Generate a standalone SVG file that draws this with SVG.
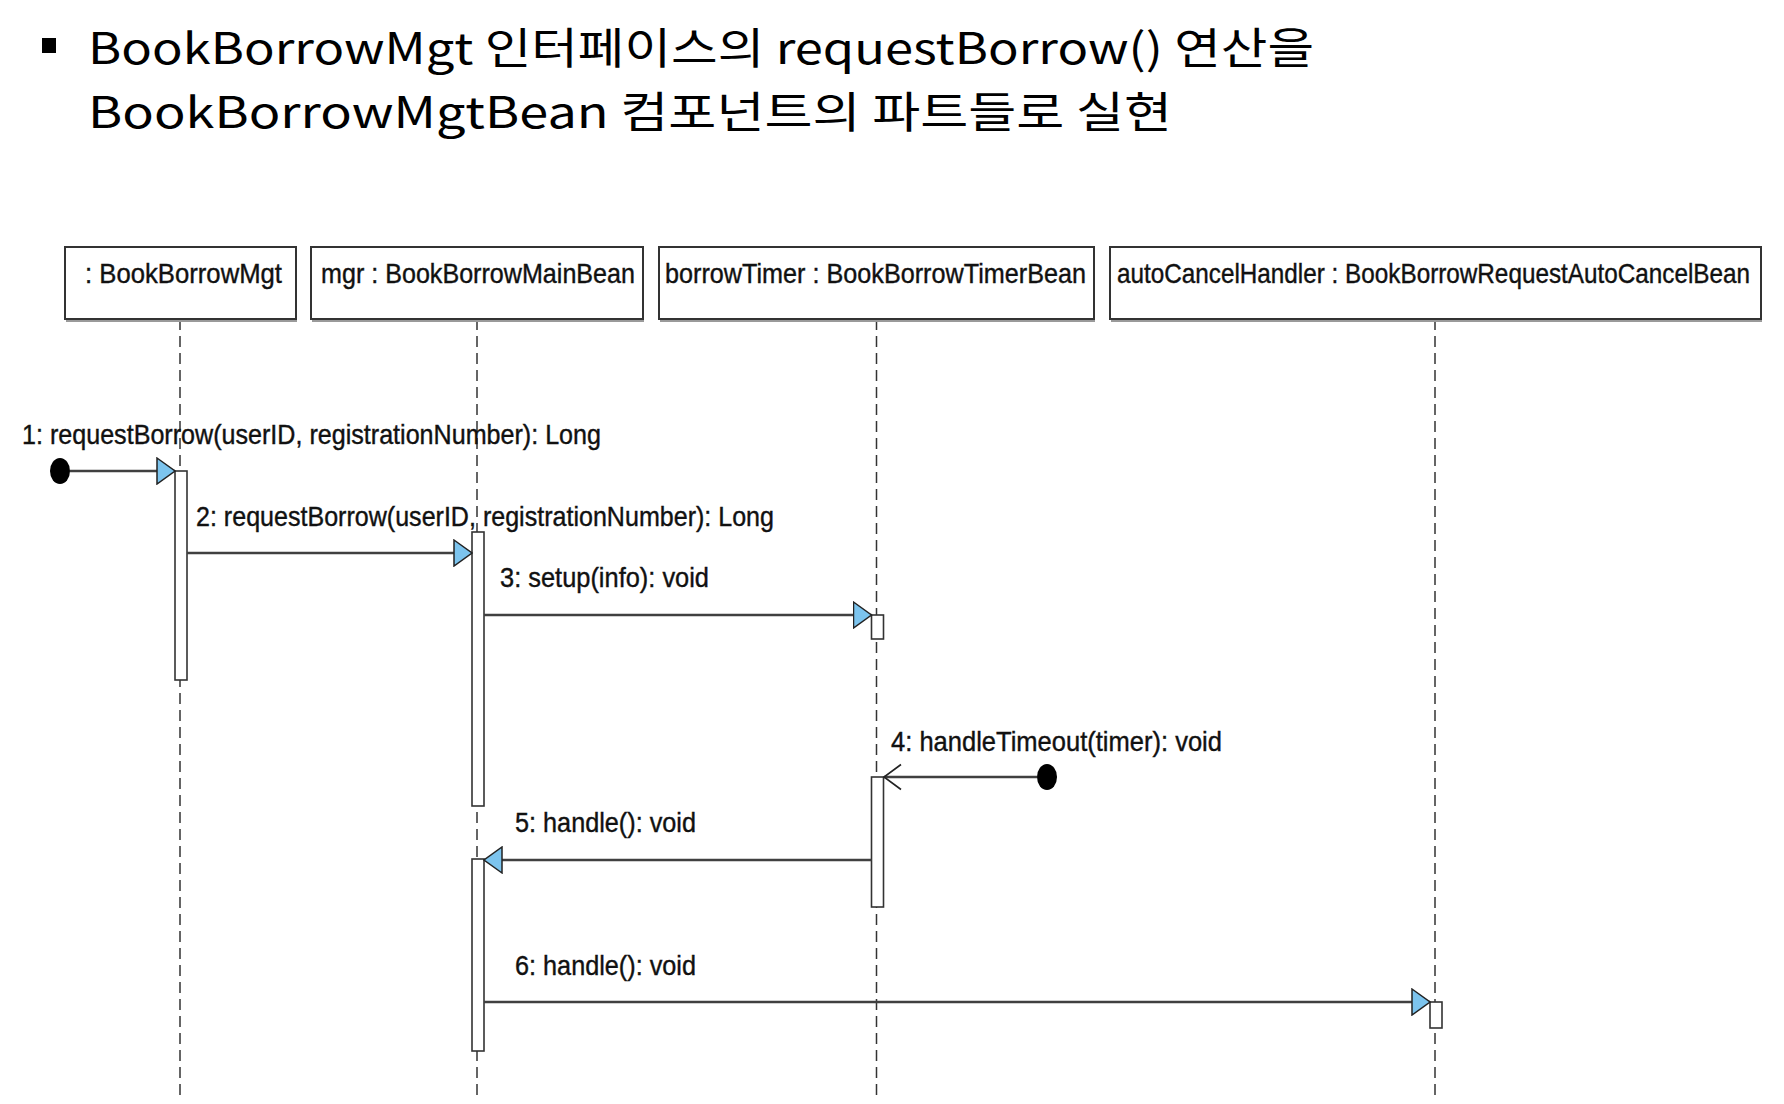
<svg xmlns="http://www.w3.org/2000/svg" width="1784" height="1104" viewBox="0 0 1784 1104">
<defs>
<style>
.title{font-family:"Noto Sans CJK KR","Noto Sans",sans-serif;font-size:43px;fill:#000}
.lbl{font-family:"Liberation Sans","DejaVu Sans",sans-serif;font-size:28px;fill:#111;stroke:#111;stroke-width:0.4}
.box{fill:#fff;stroke:#333;stroke-width:2}
.shadow{fill:none;stroke:#9a9a9a;stroke-width:2}
.life{stroke:#333;stroke-width:1.5;stroke-dasharray:11 6;fill:none}
.bar{fill:#fff;stroke:#333;stroke-width:1.6}
.msg{stroke:#404040;stroke-width:2.5;fill:none}
.dot{fill:#000}
</style>
<marker id="tri" markerUnits="userSpaceOnUse" markerWidth="20" markerHeight="28" viewBox="-1 -1 20 28" refX="18" refY="13" orient="auto">
<path d="M0,0 L18,13 L0,26 Z" fill="#7cc4ee" stroke="#222" stroke-width="1.5"/>
</marker>
<marker id="open" markerUnits="userSpaceOnUse" markerWidth="20" markerHeight="28" viewBox="-1 -1 20 28" refX="17" refY="12.5" orient="auto">
<path d="M0,0 L17,12.5 L0,25" fill="none" stroke="#222" stroke-width="1.6"/>
</marker>
</defs>
<rect width="1784" height="1104" fill="#fff"/>

<g id="title">
<rect x="42" y="38" width="14" height="15" fill="#000"/>
<text class="title" x="88" y="64" textLength="1226" lengthAdjust="spacingAndGlyphs">BookBorrowMgt 인터페이스의 requestBorrow() 연산을</text>
<text class="title" x="88" y="128" textLength="1084" lengthAdjust="spacingAndGlyphs">BookBorrowMgtBean 컴포넌트의 파트들로 실현</text>
</g>

<g id="lifelines">
<line class="life" x1="180" y1="319" x2="180" y2="1095"/>
<line class="life" x1="477" y1="319" x2="477" y2="1095"/>
<line class="life" x1="876.5" y1="319" x2="876.5" y2="1095"/>
<line class="life" x1="1435" y1="319" x2="1435" y2="1095"/>
</g>

<g id="node-bookBorrowMgt">
<line class="shadow" x1="66" y1="321" x2="297" y2="321"/>
<rect class="box" x="65" y="247" width="231" height="72"/>
<text class="lbl" x="85" y="283" textLength="197" lengthAdjust="spacingAndGlyphs">: BookBorrowMgt</text>
</g>
<g id="node-mgr">
<line class="shadow" x1="312" y1="321" x2="644" y2="321"/>
<rect class="box" x="311" y="247" width="332" height="72"/>
<text class="lbl" x="321" y="283" textLength="314" lengthAdjust="spacingAndGlyphs">mgr : BookBorrowMainBean</text>
</g>
<g id="node-borrowTimer">
<line class="shadow" x1="660" y1="321" x2="1095" y2="321"/>
<rect class="box" x="659" y="247" width="435" height="72"/>
<text class="lbl" x="665" y="283" textLength="421" lengthAdjust="spacingAndGlyphs">borrowTimer : BookBorrowTimerBean</text>
</g>
<g id="node-autoCancelHandler">
<line class="shadow" x1="1111" y1="321" x2="1762" y2="321"/>
<rect class="box" x="1110" y="247" width="651" height="72"/>
<text class="lbl" x="1117" y="283" textLength="633" lengthAdjust="spacingAndGlyphs">autoCancelHandler : BookBorrowRequestAutoCancelBean</text>
</g>

<g id="activations">
<rect class="bar" x="175" y="471" width="12" height="209"/>
<rect class="bar" x="472" y="532" width="12" height="274"/>
<rect class="bar" x="871.5" y="615" width="12" height="24"/>
<rect class="bar" x="871.5" y="777" width="12" height="130"/>
<rect class="bar" x="472" y="859" width="12" height="192"/>
<rect class="bar" x="1430" y="1002" width="12" height="26"/>
</g>

<g id="connectors">
<ellipse class="dot" cx="60" cy="471" rx="10" ry="13"/>
<line class="msg" x1="70" y1="471" x2="175" y2="471" marker-end="url(#tri)"/>
<text class="lbl" x="22" y="444" textLength="579" lengthAdjust="spacingAndGlyphs">1: requestBorrow(userID, registrationNumber): Long</text>

<line class="msg" x1="187" y1="553" x2="472" y2="553" marker-end="url(#tri)"/>
<text class="lbl" x="196" y="526" textLength="578" lengthAdjust="spacingAndGlyphs">2: requestBorrow(userID, registrationNumber): Long</text>

<line class="msg" x1="484" y1="615" x2="871.5" y2="615" marker-end="url(#tri)"/>
<text class="lbl" x="500" y="587" textLength="209" lengthAdjust="spacingAndGlyphs">3: setup(info): void</text>

<ellipse class="dot" cx="1047" cy="777" rx="10" ry="13"/>
<line class="msg" x1="1037" y1="777" x2="884" y2="777" marker-end="url(#open)"/>
<text class="lbl" x="891" y="751" textLength="331" lengthAdjust="spacingAndGlyphs">4: handleTimeout(timer): void</text>

<line class="msg" x1="871.5" y1="860" x2="484" y2="860" marker-end="url(#tri)"/>
<text class="lbl" x="515" y="832" textLength="181" lengthAdjust="spacingAndGlyphs">5: handle(): void</text>

<line class="msg" x1="484" y1="1002" x2="1430" y2="1002" marker-end="url(#tri)"/>
<text class="lbl" x="515" y="975" textLength="181" lengthAdjust="spacingAndGlyphs">6: handle(): void</text>
</g>
</svg>
